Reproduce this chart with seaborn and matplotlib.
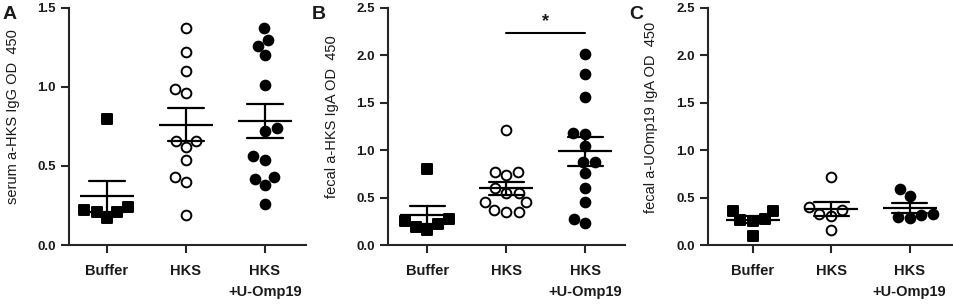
import matplotlib
matplotlib.use("Agg")
import matplotlib.pyplot as plt
import seaborn as sns
import pandas as pd

# --- group names / tick labels ---
GROUPS = ["Buffer", "HKS", "HKS\n+U-Omp19"]

# --- panel A: serum a-HKS IgG ---
a_buffer = [0.80, 0.24, 0.22, 0.21, 0.21, 0.17]
a_hks = [1.37, 1.22, 1.10, 0.99, 0.96, 0.66, 0.66, 0.62, 0.54, 0.43, 0.40, 0.19]
a_hks_u = [1.37, 1.30, 1.26, 1.20, 1.01, 0.74, 0.72, 0.56, 0.54, 0.43, 0.42, 0.38, 0.26]

# --- panel B: fecal a-HKS IgA ---
b_buffer = [0.80, 0.27, 0.25, 0.22, 0.19, 0.16]
b_hks = [1.21, 0.77, 0.77, 0.74, 0.60, 0.55, 0.55, 0.45, 0.45, 0.37, 0.35, 0.35]
b_hks_u = [2.01, 1.80, 1.56, 1.18, 1.17, 1.04, 0.88, 0.88, 0.76, 0.60, 0.45, 0.27, 0.23]

# --- panel C: fecal a-UOmp19 IgA ---
c_buffer = [0.36, 0.36, 0.27, 0.26, 0.25, 0.10]
c_hks = [0.72, 0.40, 0.37, 0.33, 0.31, 0.16]
c_hks_u = [0.59, 0.52, 0.33, 0.32, 0.30, 0.28]

YLABELS = ["serum a-HKS IgG OD  450",
           "fecal a-HKS IgA OD  450",
           "fecal a-UOmp19 IgA OD  450"]
YMAX = [1.5, 2.5, 2.5]
LETTERS = ["A", "B", "C"]

sns.set_style("ticks")
plt.rcParams["font.family"] = ["Liberation Sans", "DejaVu Sans"]
plt.rcParams["text.color"] = "#1a1a1a"


def draw_panel(ax, buffer, hks, hks_u, ylabel, ymax):
    styles = [
        (buffer, "s", "black"),
        (hks, "o", "white"),
        (hks_u, "o", "black"),
    ]
    for name, (vals, marker, face) in zip(GROUPS, styles):
        sns.swarmplot(x=[name] * len(vals), y=vals, order=GROUPS, ax=ax,
                      marker=marker, color=face, edgecolor="black",
                      linewidth=1.4, size=7, zorder=2)

    df = pd.DataFrame({
        "group": [GROUPS[0]] * len(buffer) + [GROUPS[1]] * len(hks) + [GROUPS[2]] * len(hks_u),
        "value": buffer + hks + hks_u,
    })
    # mean +/- SEM
    sns.pointplot(data=df, x="group", y="value", order=GROUPS, ax=ax,
                  errorbar="se", capsize=0.45, color="black",
                  markers="_", linestyles="none", markersize=39,
                  markeredgewidth=1.6, err_kws={"linewidth": 1.6}, zorder=3)

    ax.set_ylim(0, ymax)
    ax.set_yticks([i * 0.5 for i in range(int(ymax / 0.5) + 1)])
    ax.set_yticklabels([f"{i * 0.5:.1f}" for i in range(int(ymax / 0.5) + 1)])
    ax.set_xlabel("")
    ax.set_ylabel(ylabel, fontsize=10.5, color="#1a1a1a")
    ax.yaxis.set_label_coords(-0.205, 0.54)
    sns.despine(ax=ax)
    for side in ["left", "bottom"]:
        ax.spines[side].set_linewidth(1.5)
    ax.tick_params(axis="both", length=6, width=1.5, labelcolor="#1a1a1a")
    ax.tick_params(axis="y", labelsize=9.5)
    ax.tick_params(axis="x", pad=8, labelsize=10.5)
    for lbl in ax.get_xticklabels() + ax.get_yticklabels():
        lbl.set_fontweight("bold")
    for lbl in ax.get_xticklabels():
        lbl.set_linespacing(1.55)
        lbl.set_verticalalignment("top")


fig = plt.figure(figsize=(9.54, 3.04), dpi=100)
positions = [
    [0.0723, 0.194, 0.2485, 0.780],
    [0.4067, 0.194, 0.2484, 0.780],
    [0.7421, 0.194, 0.2558, 0.780],
]
xlims = [(-0.48, 2.52), (-0.5, 2.5), (-0.57, 2.54)]
letter_x = [0.003, 0.327, 0.660]
data = [(a_buffer, a_hks, a_hks_u), (b_buffer, b_hks, b_hks_u), (c_buffer, c_hks, c_hks_u)]

axes = []
for pos, (buf, hks, hksu), ylab, ymax, xl in zip(positions, data, YLABELS, YMAX, xlims):
    ax = fig.add_axes(pos)
    draw_panel(ax, buf, hks, hksu, ylab, ymax)
    ax.set_xlim(*xl)
    axes.append(ax)

# significance bar HKS vs HKS+U-Omp19 in panel B
axes[1].plot([1, 2], [2.24, 2.24], color="black", linewidth=1.5)
axes[1].text(1.5, 2.27, "*", ha="center", va="bottom", fontsize=13, fontweight="bold")

# panel letters
for lx, letter in zip(letter_x, LETTERS):
    fig.text(lx, 0.953, letter, fontsize=14, fontweight="bold", ha="left", va="center")

fig.savefig("out.png", dpi=100)
